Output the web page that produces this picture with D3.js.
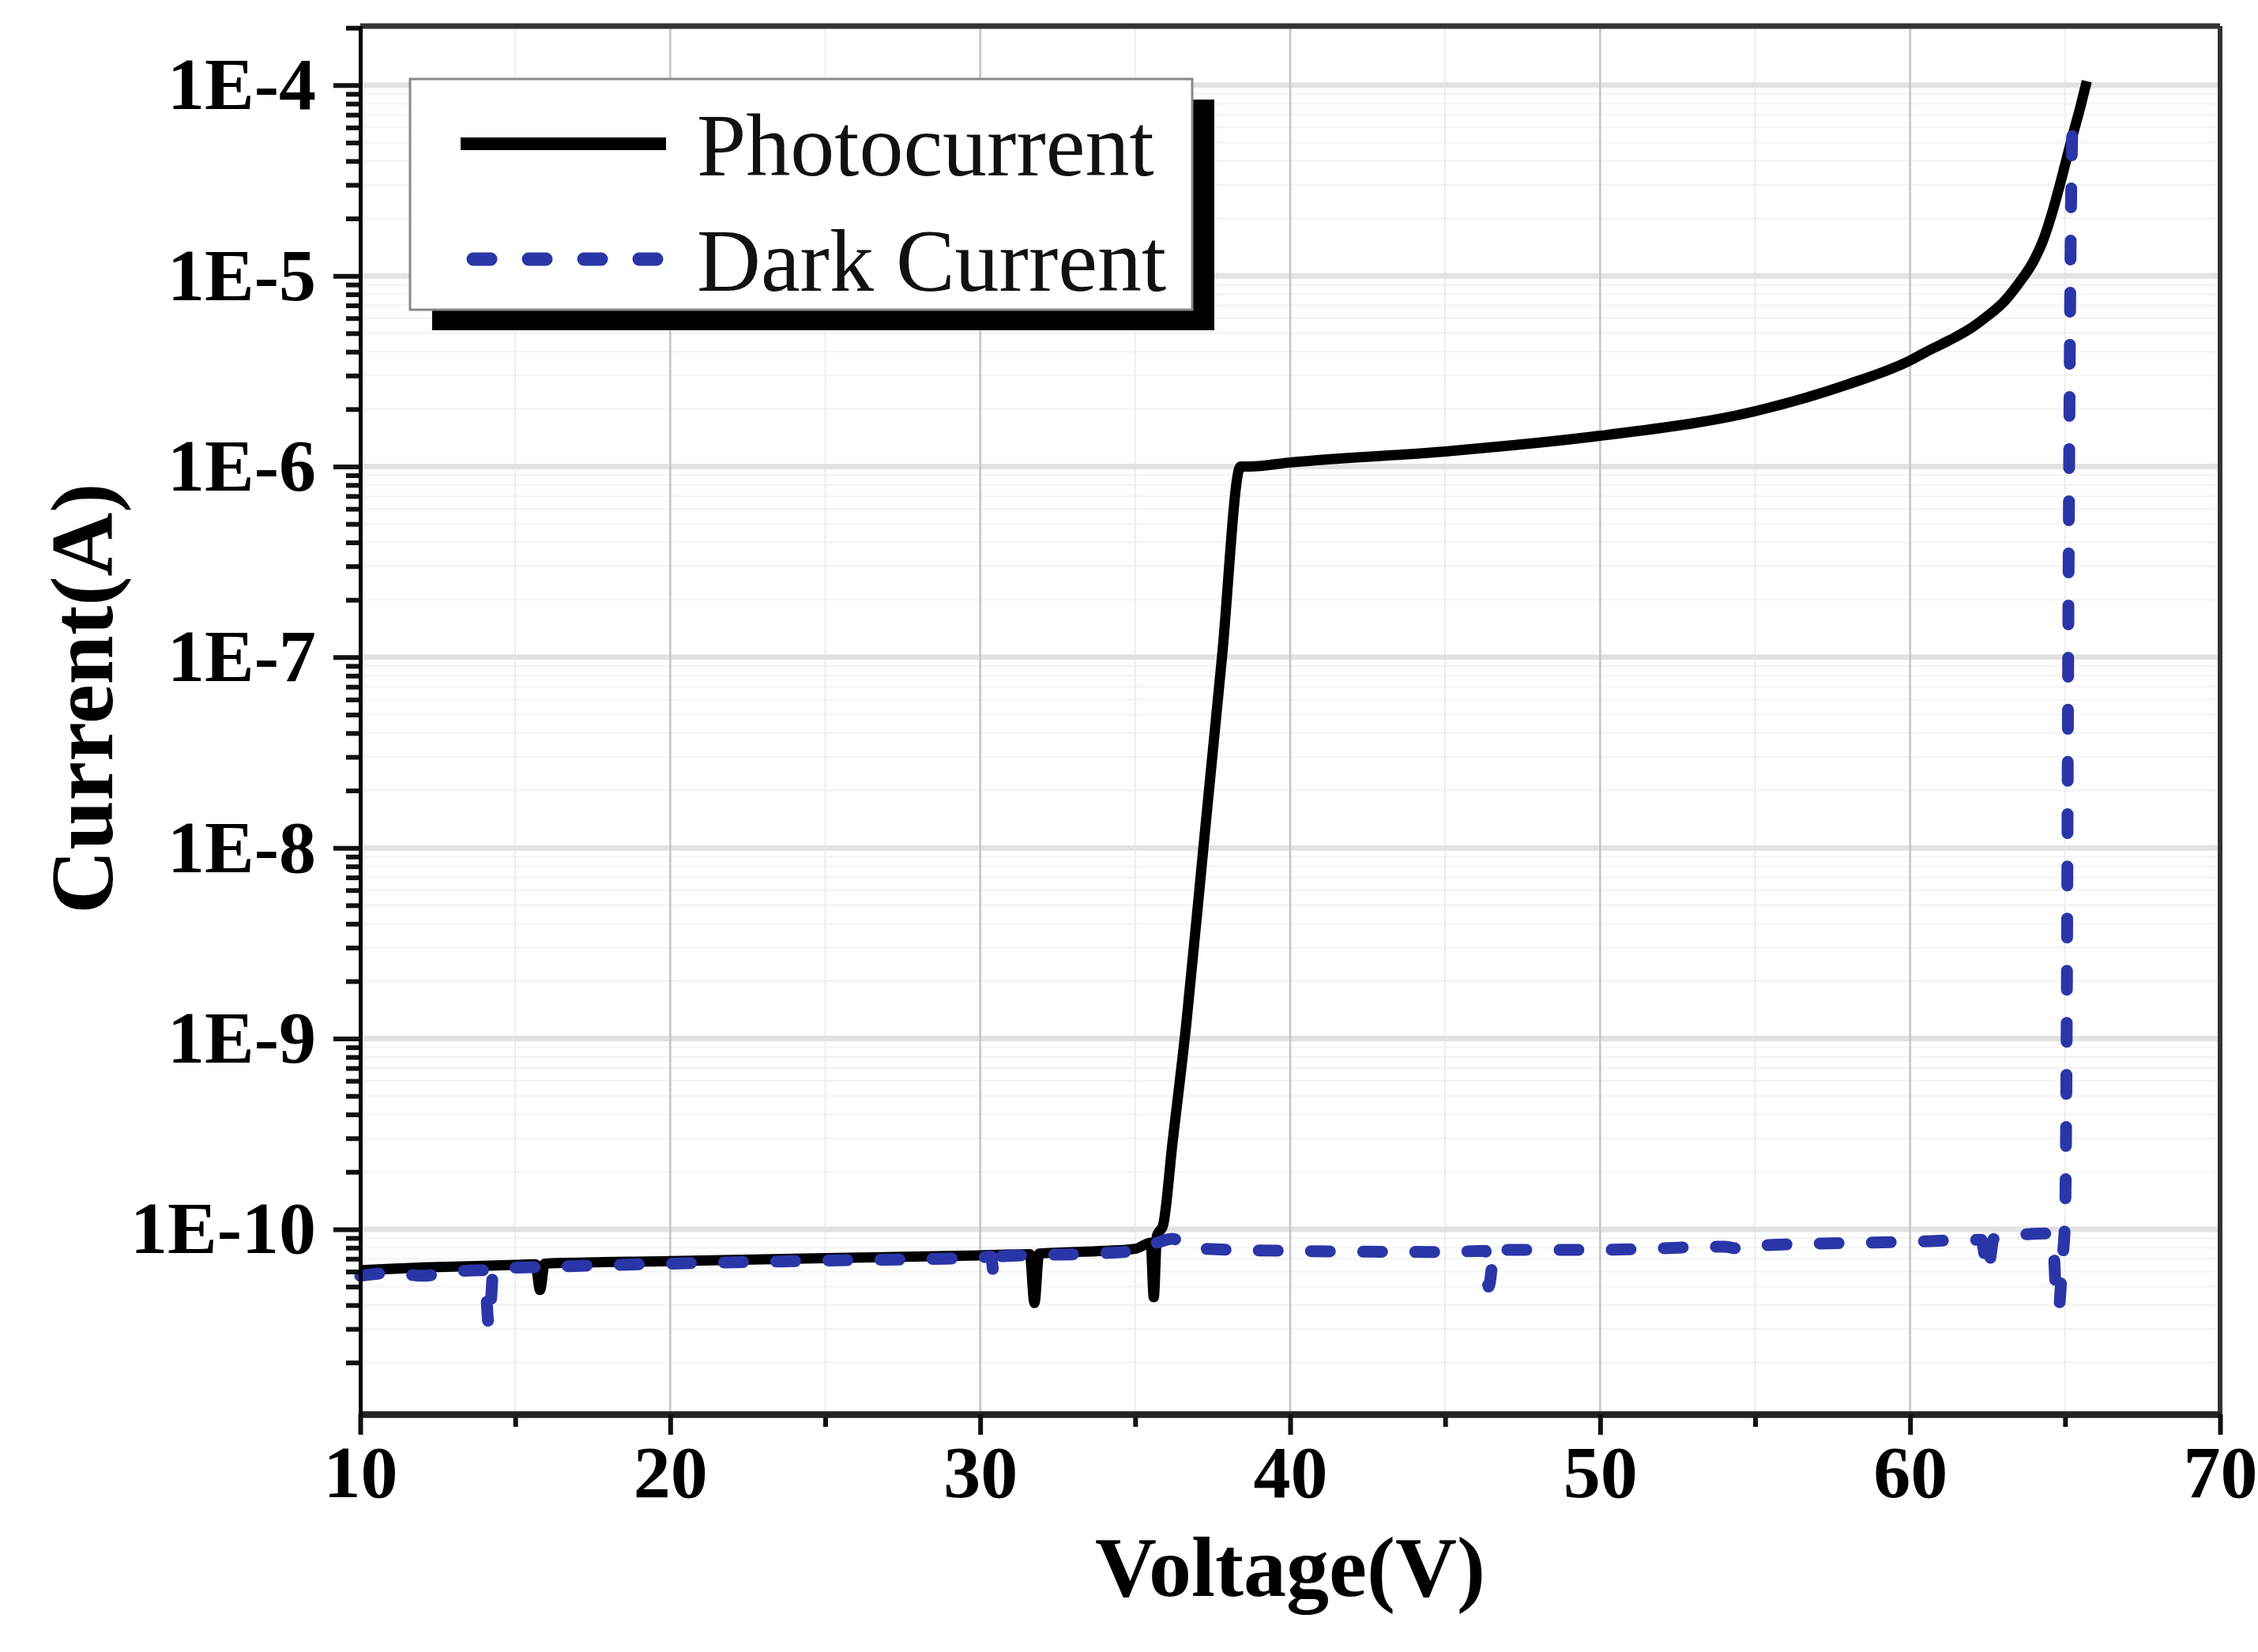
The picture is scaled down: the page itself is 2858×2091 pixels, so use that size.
<!DOCTYPE html>
<html>
<head>
<meta charset="utf-8">
<script src="https://cdn.jsdelivr.net/npm/d3@7/dist/d3.min.js"></script>
<style>
  body { margin: 0; background: #fff; }
  text { font-family: "Liberation Serif", "Times New Roman", serif; }
</style>
</head>
<body>
<script>
// photocurrent / dark current I-V curve, log scale

// photocurrent (black solid)
var photoV = [10, 12, 15, 15.65, 15.8, 15.95, 20, 25, 30, 31.6, 31.75, 31.9, 34, 35, 35.5, 35.6, 35.7, 35.9, 36.2, 36.65, 37.2, 37.8, 38.4, 38.7, 40, 45, 50, 55, 58, 60, 60.5, 61, 61.5, 62, 62.5, 63, 63.5, 64, 64.3, 64.6, 64.9, 65.2, 65.5, 65.7];
var photoI = [6.1e-11, 6.3e-11, 6.5e-11, 6.55e-11, 4.8e-11, 6.6e-11, 6.8e-11, 7.05e-11, 7.3e-11, 7.4e-11, 4.1e-11, 7.45e-11, 7.7e-11, 7.9e-11, 8.5e-11, 4.4e-11, 9.2e-11, 1.05e-10, 2.8e-10, 1.2e-9, 1e-8, 1e-7, 1e-6, 1.0e-6, 1.05e-6, 1.2e-6, 1.45e-6, 1.95e-6, 2.7e-6, 3.6e-6, 3.98e-6, 4.37e-6, 4.81e-6, 5.37e-6, 6.17e-6, 7.24e-6, 9.12e-6, 1.21e-5, 1.55e-5, 2.19e-5, 3.31e-5, 5.13e-5, 7.76e-5, 1.05e-4];

// dark current (blue dashed)
var darkV = [10, 11, 12, 13, 14.0, 14.15, 14.3, 16, 20, 25, 30, 30.35, 30.45, 30.6, 34, 35, 35.8, 36.2, 36.6, 37.2, 40, 45, 46.3, 46.4, 46.6, 50, 54, 54.5, 55, 60, 62.3, 62.5, 62.7, 64.4, 64.6, 64.7, 64.8, 64.9, 65.0, 65.05, 65.1, 65.17, 65.25];
var darkI = [5.7e-11, 5.9e-11, 5.7e-11, 6.0e-11, 6.1e-11, 3.1e-11, 6.2e-11, 6.35e-11, 6.6e-11, 6.85e-11, 7.1e-11, 7.2e-11, 5.6e-11, 7.2e-11, 7.5e-11, 7.7e-11, 8.6e-11, 8.9e-11, 8.4e-11, 7.9e-11, 7.7e-11, 7.6e-11, 7.7e-11, 5.0e-11, 7.8e-11, 7.8e-11, 8.1e-11, 7.9e-11, 8.2e-11, 8.6e-11, 8.8e-11, 6.0e-11, 8.9e-11, 9.5e-11, 9.3e-11, 4.8e-11, 3.9e-11, 6.5e-11, 1.15e-10, 1e-9, 1e-7, 1e-5, 7.5e-5];

var xMajor = [10, 20, 30, 40, 50, 60, 70];
var xMinor = [15, 25, 35, 45, 55, 65];
var yMajor = [1e-4, 1e-5, 1e-6, 1e-7, 1e-8, 1e-9, 1e-10];
var yLabels = ["1E-4", "1E-5", "1E-6", "1E-7", "1E-8", "1E-9", "1E-10"];
var seriesNames = ["Photocurrent", "Dark Current"];

var width = 2858, height = 2091;
var plotLeft = 456, plotRight = 2810, plotTop = 33, plotBottom = 1790;
var blue = "#2a36a8";

var svg = d3.select("body").append("svg")
    .attr("width", width)
    .attr("height", height);

var x = d3.scaleLinear().domain([10, 70]).range([plotLeft, plotRight]);
var y = d3.scaleLog().domain([Math.pow(10, -10.97), Math.pow(10, -3.69)]).range([plotBottom, plotTop]);

// minor ticks for log axis
var yMinor = [];
for (var e = -11; e <= -4; e++) {
    for (var m = 2; m <= 9; m++) {
        var v = m * Math.pow(10, e);
        if (v > y.domain()[0] && v < y.domain()[1]) yMinor.push(v);
    }
}

// grid
var grid = svg.append("g");
grid.selectAll(".ymin").data(yMinor).enter().append("line")
    .attr("x1", plotLeft).attr("x2", plotRight)
    .attr("y1", function(d){ return y(d); }).attr("y2", function(d){ return y(d); })
    .attr("stroke", "#f3f3f3").attr("stroke-width", 2);
grid.selectAll(".xmin").data(xMinor).enter().append("line")
    .attr("x1", function(d){ return x(d); }).attr("x2", function(d){ return x(d); })
    .attr("y1", plotTop).attr("y2", plotBottom)
    .attr("stroke", "#eeeeee").attr("stroke-width", 2);
grid.selectAll(".ymaj").data(yMajor).enter().append("line")
    .attr("x1", plotLeft).attr("x2", plotRight)
    .attr("y1", function(d){ return y(d); }).attr("y2", function(d){ return y(d); })
    .attr("stroke", "#e2e2e2").attr("stroke-width", 7);
grid.selectAll(".xmaj").data(xMajor.slice(1, -1)).enter().append("line")
    .attr("x1", function(d){ return x(d); }).attr("x2", function(d){ return x(d); })
    .attr("y1", plotTop).attr("y2", plotBottom)
    .attr("stroke", "#c4c4c4").attr("stroke-width", 2.5);

// curves
var line = d3.line()
    .x(function(d){ return x(d[0]); })
    .y(function(d){ return y(d[1]); })
    .curve(d3.curveMonotoneX);

var photo = photoV.map(function(v, i){ return [v, photoI[i]]; });
var dark = darkV.map(function(v, i){ return [v, darkI[i]]; });

svg.append("path").datum(photo)
    .attr("d", line)
    .attr("fill", "none")
    .attr("stroke", "#000")
    .attr("stroke-width", 13)
    .attr("stroke-linejoin", "round");

svg.append("path").datum(dark)
    .attr("d", line)
    .attr("fill", "none")
    .attr("stroke", blue)
    .attr("stroke-width", 15)
    .attr("stroke-linecap", "round")
    .attr("stroke-dasharray", "24,42");

// frame (top and right)
svg.append("line").attr("x1", plotLeft).attr("x2", plotRight).attr("y1", plotTop).attr("y2", plotTop)
    .attr("stroke", "#333").attr("stroke-width", 7);
svg.append("line").attr("x1", plotRight).attr("x2", plotRight).attr("y1", plotTop).attr("y2", plotBottom)
    .attr("stroke", "#333").attr("stroke-width", 6);

// x axis
var xAxis = svg.append("g").attr("transform", "translate(0," + plotBottom + ")");
xAxis.call(d3.axisBottom(x).tickValues(xMinor).tickSize(16).tickSizeOuter(0).tickFormat(""));
xAxis.append("g")
    .call(d3.axisBottom(x).tickValues(xMajor).tickSize(26).tickSizeOuter(0).tickPadding(12).tickFormat(d3.format("d")));
xAxis.selectAll(".domain").attr("stroke", "#222").attr("stroke-width", 8);
xAxis.selectAll(".tick line").attr("stroke", "#111").attr("stroke-width", 6);
xAxis.selectAll("text")
    .attr("font-family", "Liberation Serif")
    .attr("font-weight", "bold")
    .attr("font-size", 94)
    .attr("fill", "#000");

// y axis
var yAxis = svg.append("g").attr("transform", "translate(" + plotLeft + ",0)");
yAxis.call(d3.axisLeft(y).tickValues(yMinor).tickSize(18).tickSizeOuter(0).tickFormat(""));
yAxis.append("g")
    .call(d3.axisLeft(y).tickValues(yMajor).tickSize(34).tickSizeOuter(0).tickPadding(22)
        .tickFormat(function(d, i){ return yLabels[i]; }));
yAxis.selectAll(".domain").attr("stroke", "#000").attr("stroke-width", 5);
yAxis.selectAll(".tick line").attr("stroke", "#111").attr("stroke-width", 6);
yAxis.selectAll("text")
    .attr("font-family", "Liberation Serif")
    .attr("font-weight", "bold")
    .attr("font-size", 94)
    .attr("fill", "#000");

// axis titles
svg.append("text")
    .attr("x", (plotLeft + plotRight) / 2)
    .attr("y", 2020)
    .attr("text-anchor", "middle")
    .attr("font-weight", "bold")
    .attr("font-size", 108)
    .text("Voltage(V)");

svg.append("text")
    .attr("transform", "translate(142,884) rotate(-90)")
    .attr("text-anchor", "middle")
    .attr("font-weight", "bold")
    .attr("font-size", 112)
    .text("Current(A)");

// legend
var lg = svg.append("g");
var lx = 519, ly = 100, lw = 990, lh = 292;
lg.append("rect").attr("x", lx + 28).attr("y", ly + 26).attr("width", lw).attr("height", lh)
    .attr("fill", "#000");
lg.append("rect").attr("x", lx).attr("y", ly).attr("width", lw).attr("height", lh)
    .attr("fill", "#fff").attr("stroke", "#888").attr("stroke-width", 3);

var rows = [ly + 82, ly + 228];
lg.append("line").attr("x1", lx + 64).attr("x2", lx + 324).attr("y1", rows[0]).attr("y2", rows[0])
    .attr("stroke", "#000").attr("stroke-width", 16);
lg.append("line").attr("x1", lx + 80).attr("x2", lx + 324).attr("y1", rows[1]).attr("y2", rows[1])
    .attr("stroke", blue).attr("stroke-width", 17)
    .attr("stroke-linecap", "round").attr("stroke-dasharray", "22,48");

lg.selectAll(".ltext").data(seriesNames).enter().append("text")
    .attr("x", lx + 363)
    .attr("y", function(d, i){ return rows[i] + 40; })
    .attr("font-size", 112)
    .attr("fill", "#111")
    .text(function(d){ return d; });
</script>
</body>
</html>
